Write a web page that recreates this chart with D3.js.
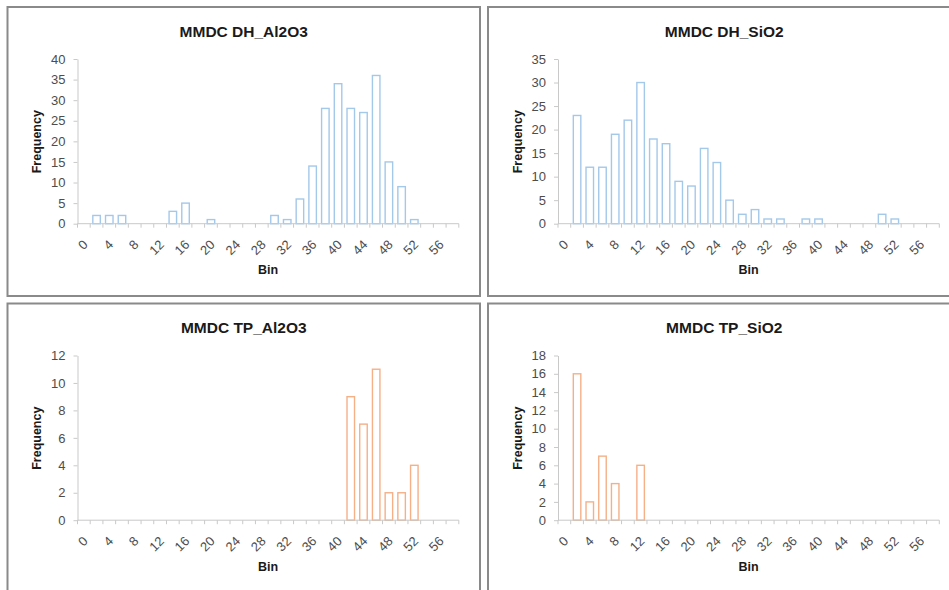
<!DOCTYPE html>
<html><head><meta charset="utf-8">
<script src="https://cdn.jsdelivr.net/npm/d3@7/dist/d3.min.js"></script>
<style>body{margin:0;background:#fff}</style>
</head><body>
<svg id="c" width="949" height="590"></svg>
<script>
// ---- data ----
const bins = [0,2,4,6,8,10,12,14,16,18,20,22,24,26,28,30,32,34,36,38,40,42,44,46,48,50,52,54,56,58];
const xLabelBins = [0,4,8,12,16,20,24,28,32,36,40,44,48,52,56];
const dhAl2O3 = [0,2,2,2,0,0,0,3,5,0,1,0,0,0,0,2,1,6,14,28,34,28,27,36,15,9,1,0,0,0];
const dhSiO2  = [0,23,12,12,19,22,30,18,17,9,8,16,13,5,2,3,1,1,0,1,1,0,0,0,0,2,1,0,0,0];
const tpAl2O3 = [0,0,0,0,0,0,0,0,0,0,0,0,0,0,0,0,0,0,0,0,0,9,7,11,2,2,4,0,0,0];
const tpSiO2  = [0,16,2,7,4,0,6,0,0,0,0,0,0,0,0,0,0,0,0,0,0,0,0,0,0,0,0,0,0,0];
const titles = ["MMDC DH_Al2O3","MMDC DH_SiO2","MMDC TP_Al2O3","MMDC TP_SiO2"];
const yTicks1 = [0,5,10,15,20,25,30,35,40];
const yTicks2 = [0,5,10,15,20,25,30,35];
const yTicks3 = [0,2,4,6,8,10,12];
const yTicks4 = [0,2,4,6,8,10,12,14,16,18];
const xTitle = "Bin", yTitle = "Frequency";

const panels = [
  {ox:7.5, oy:7,     vals:dhAl2O3, title:titles[0], yt:yTicks1, color:"#a4c8ea"},
  {ox:488, oy:7,     vals:dhSiO2,  title:titles[1], yt:yTicks2, color:"#a4c8ea"},
  {ox:7.5, oy:303.5, vals:tpAl2O3, title:titles[2], yt:yTicks3, color:"#f5b088"},
  {ox:488, oy:303.5, vals:tpSiO2,  title:titles[3], yt:yTicks4, color:"#f5b088"}
];

const svg = d3.select("#c");
const FW = 472.5, FH = 289;
const L = 70, R = 451.3, T = 52, B = 216.7;
const font = "'Liberation Sans', Arial, sans-serif";
const axisCol = "#c9c9c9", txtCol = "#4d4d4d";

panels.forEach(p => {
  const g = svg.append("g").attr("transform", `translate(${p.ox},${p.oy})`);
  g.append("rect").attr("x",0).attr("y",0).attr("width",FW).attr("height",FH)
    .attr("fill","#fff").attr("stroke","#8a8a8a").attr("stroke-width",2);

  const x = d3.scaleBand().domain(bins).range([L,R]).paddingInner(0.41).paddingOuter(0.205);
  const y = d3.scaleLinear().domain([0, d3.max(p.yt)]).range([B,T]);

  // y axis
  const ya = g.append("g").attr("transform",`translate(${L},0)`)
    .call(d3.axisLeft(y).tickValues(p.yt).tickSize(4).tickSizeOuter(0).tickPadding(8));
  ya.attr("font-size",null).attr("font-family",null);
  ya.select(".domain").attr("stroke",axisCol);
  ya.selectAll(".tick line").attr("stroke",axisCol);
  ya.selectAll("text").attr("fill",txtCol).style("font-family",font).style("font-size","13px");

  // bars
  g.selectAll("rect.bar").data(bins.map((b,i)=>({b, v:p.vals[i]})).filter(d=>d.v>0))
    .enter().append("rect").attr("class","bar")
    .attr("x", d=>x(d.b)).attr("width", x.bandwidth())
    .attr("y", d=>y(d.v)).attr("height", d=>y(0)-y(d.v))
    .attr("fill","#fff").attr("stroke",p.color).attr("stroke-width",1.4);

  // x axis
  const xa = g.append("g").attr("transform",`translate(0,${B})`)
    .call(d3.axisBottom(x).tickValues(xLabelBins).tickSize(0).tickPadding(0));
  xa.attr("font-size",null).attr("font-family",null);
  xa.select(".domain").remove();
  xa.selectAll("text").attr("fill",txtCol).style("font-family",font).style("font-size","13px")
    .attr("text-anchor","end").attr("dy",null).attr("y",null)
    .attr("transform","translate(-2,15) rotate(-45)")
    .attr("dominant-baseline","hanging");
  g.append("line").attr("x1",L).attr("x2",R).attr("y1",B).attr("y2",B).attr("stroke",axisCol);
  const step = x.step();
  g.selectAll("line.xt").data(d3.range(bins.length+1)).enter().append("line")
    .attr("x1",i=>L+i*step).attr("x2",i=>L+i*step).attr("y1",B).attr("y2",B+4)
    .attr("stroke",axisCol);

  // titles
  g.append("text").attr("x",FW/2).attr("y",29.7).attr("text-anchor","middle")
    .style("font-family",font).style("font-weight","bold").style("font-size","15.5px")
    .attr("fill","#1a1a1a").text(p.title);
  g.append("text").attr("x",(L+R)/2).attr("y",267.3).attr("text-anchor","middle")
    .style("font-family",font).style("font-weight","bold").style("font-size","12.5px")
    .attr("fill","#1a1a1a").text(xTitle);
  g.append("text").attr("transform",`translate(33.5,134.7) rotate(-90)`).attr("text-anchor","middle")
    .style("font-family",font).style("font-weight","bold").style("font-size","12.5px")
    .attr("fill","#1a1a1a").text(yTitle);
});
</script>
</body></html>
